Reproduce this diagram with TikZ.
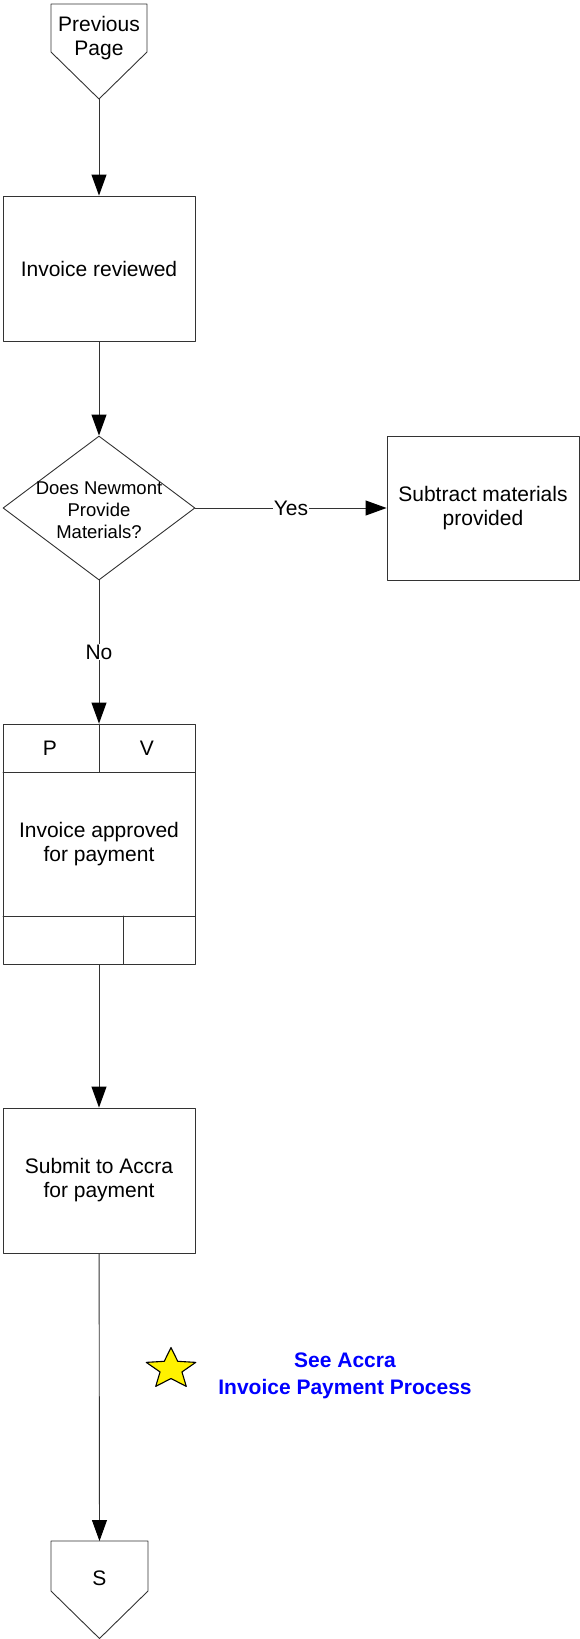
\documentclass[tikz,border=0pt]{standalone}
\usepackage{fontspec}
\setmainfont{Liberation Sans}
\usetikzlibrary{arrows.meta,shapes.geometric}

\begin{document}
\begin{tikzpicture}[x=1pt,y=-1pt,line cap=round,line join=round,
  proc/.style={draw=black!80,line width=.9pt,minimum width=192pt,inner sep=0pt,
    align=center,font=\fontsize{21}{24}\selectfont},
  decide/.style={diamond,draw=black!80,line width=.9pt,minimum width=192pt,
    minimum height=144pt,inner sep=0pt},
  txt/.style={align=center,font=\fontsize{21}{24}\selectfont},
  small/.style={align=center,font=\fontsize{18.5}{22}\selectfont},
  flow/.style={draw=black!80,line width=.9pt,-{Triangle[length=21pt,width=15pt,black]}},
  staricon/.style={draw=black,fill=yellow,line width=1.1pt},
  note/.style={align=center,text=blue,font=\bfseries\fontsize{21}{26.5}\selectfont}]
\useasboundingbox (0,0) rectangle (580,1639);

% Off-page connector from the previous page.
\draw[draw=black!80,line width=.9pt] (51,4) -- (147,4) -- (147,52) -- (99,99) -- (51,52) -- cycle;
\coordinate (prevtip) at (99,99);
\node[txt] (prev) at (99,38) {Previous\\Page};

\node[proc,minimum height=145pt] (rev) at (99,268.5) {Invoice reviewed};
\node[decide] (dec) at (99,508) {};
\node[small] (dectxt) at (99,510) {Does Newmont\\Provide\\Materials?};
\node[proc,minimum height=144pt] (sub) at (483,508) {Subtract materials\\provided};

% Approval box with P / V header and empty footer cells.
\node[proc,minimum height=240pt] (app) at (99,844) {Invoice approved\\for payment};
\draw[draw=black!80,line width=.9pt] (3,772) -- (195,772) (3,916) -- (195,916)
  (99,724) -- (99,772) (123,916) -- (123,964);
\node[txt] (p) at (50,748) {P};
\node[txt] (v) at (147,748) {V};

\node[proc,minimum height=145pt] (acc) at (99,1180.5) {Submit to Accra\\for payment};

\draw[staricon,shift={(171,1369)}] (-90:26 and 21.5)
  \foreach \k in {0,...,4}{ -- (-54+72*\k:11.5 and 9.5) -- (-18+72*\k:26 and 21.5)} -- cycle;
\node[note] (see) at (345,1376) {See Accra\\Invoice Payment Process};

% Off-page connector to S.
\draw[draw=black!80,line width=.9pt] (51,1541) -- (148,1541) -- (148,1591) -- (99.5,1638.5) -- (51,1591) -- cycle;
\coordinate (stop) at (99.5,1541);
\node[txt] (s) at (99.5,1578) {S};

\draw[flow] (prevtip) -- (rev);
\draw[flow] (rev) -- (dec);
\draw[flow] (dec) -- node[txt,fill=white,inner sep=1pt] {Yes} (sub);
\draw[flow] (dec) -- node[txt,fill=white,inner sep=1pt] {No} (app);
\draw[flow] (app) -- (acc);
\draw[flow] (acc) -- (stop);
\end{tikzpicture}
\end{document}
